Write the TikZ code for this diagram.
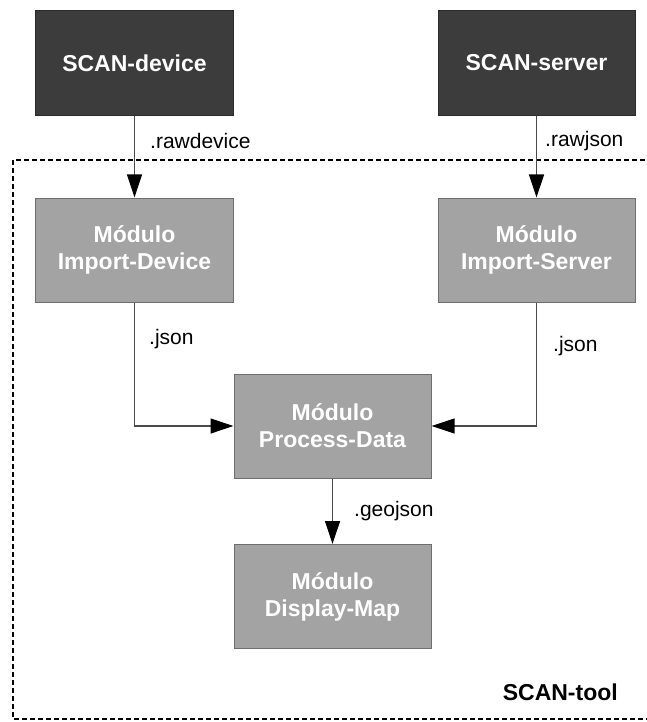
\documentclass[tikz,border=0pt]{standalone}
\usepackage{fontspec}
\setmainfont{Liberation Sans}
\usetikzlibrary{arrows.meta}

\definecolor{srcfill}{HTML}{3C3C3C}
\definecolor{srcline}{HTML}{2A2A2A}
\definecolor{modfill}{HTML}{A3A3A3}
\definecolor{modline}{HTML}{6E6E6E}
\definecolor{flowline}{HTML}{4A4A4A}

\tikzset{
  srcbox/.style={draw=srcline, fill=srcfill, line width=1bp, rectangle,
    minimum width=197bp, minimum height=104bp, inner sep=0pt,
    text=white, align=center, font=\fontsize{23bp}{27bp}\selectfont\bfseries},
  modbox/.style={srcbox, draw=modline, fill=modfill, text=white},
  flow/.style={draw=flowline, line width=1.2bp,
    -{Triangle[length=23bp, width=15bp, fill=black, color=black]}},
  extlabel/.style={anchor=west, inner sep=0pt, font=\fontsize{21bp}{25bp}\selectfont}
}

\begin{document}
\begin{tikzpicture}[x=1bp, y=-1bp]
        \useasboundingbox (0,0) rectangle (647,722);

        % Draw the tool frame
        \draw[line width=2bp, dash pattern=on 5bp off 3bp] (13,160) rectangle (662,719);
        \node[anchor=east, inner sep=0pt, font=\fontsize{23bp}{27bp}\selectfont\bfseries] (toolname) at (618,692) {SCAN-tool};

        % Draw the sources
        \node[srcbox] (device) at (134.5,63) {SCAN-device};
        \node[srcbox] (server) at (536.5,63) {SCAN-server};

        % Draw the modules
        \node[modbox] (impdevice) at (134.5,250) {Módulo\\Import-Device};
        \node[modbox] (impserver) at (536.5,250) {Módulo\\Import-Server};
        \node[modbox] (process) at (332.5,426) {Módulo\\Process-Data};
        \node[modbox] (display) at (332.5,596.5) {Módulo\\Display-Map};

        % Draw the arrows
        \draw[flow] (device.south) -- (impdevice.north);
        \draw[flow] (server.south) -- (impserver.north);
        \draw[flow] (impdevice.south) |- (process.west);
        \draw[flow] (impserver.south) |- (process.east);
        \draw[flow] (process.south) -- (display.north);

        % Add the file types
        \node[extlabel] (rawdevice) at (150,141) {.rawdevice};
        \node[extlabel] (rawjson) at (545,141) {.rawjson};
        \node[extlabel] (jsondevice) at (149,339) {.json};
        \node[extlabel] (jsonserver) at (553,346) {.json};
        \node[extlabel] (geojson) at (354,511) {.geojson};

    \end{tikzpicture}
\end{document}
